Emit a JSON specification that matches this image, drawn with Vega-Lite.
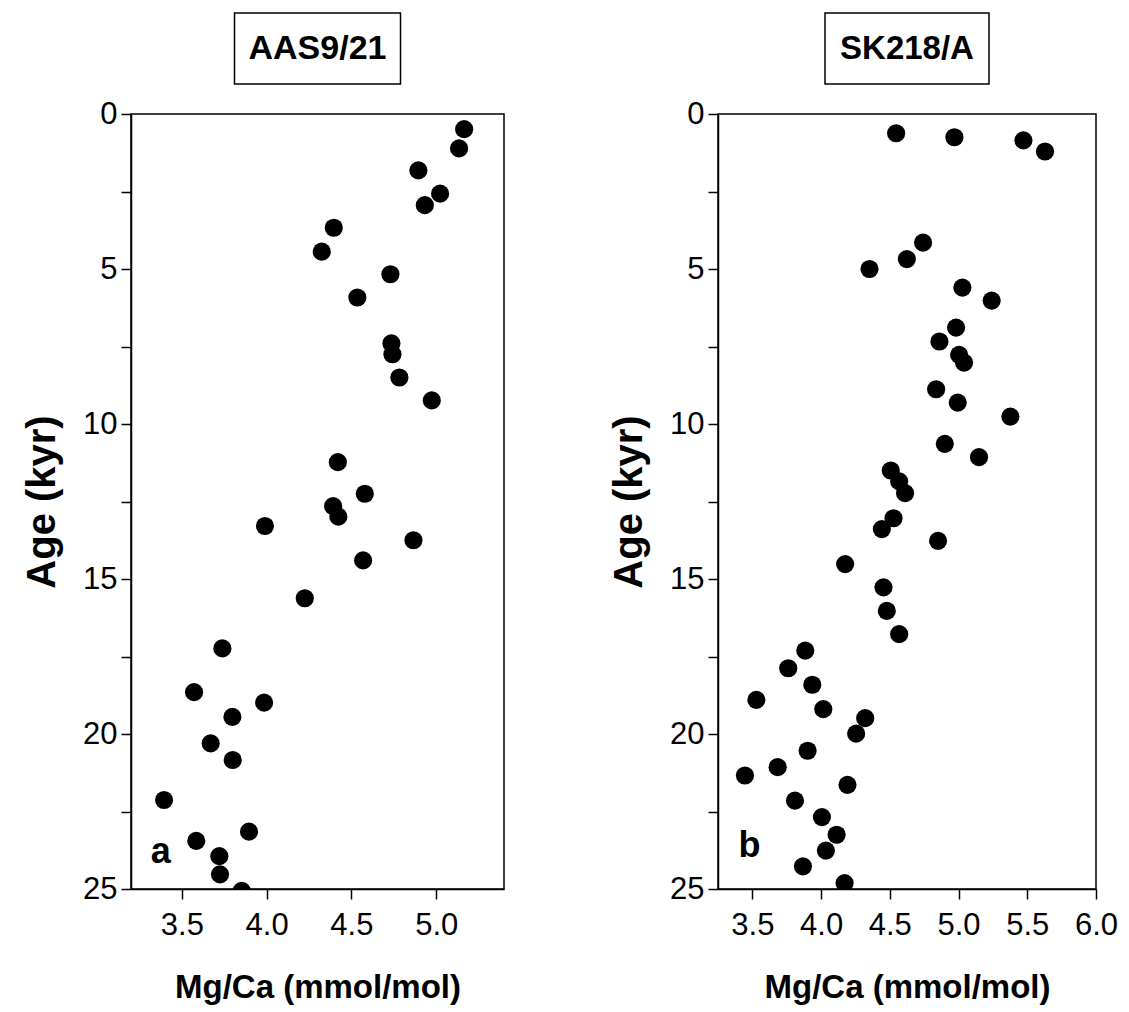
{
  "$schema": "https://vega.github.io/schema/vega-lite/v6.json",
  "padding": {"left": 21, "top": 12, "right": 5, "bottom": 2},
  "background": "white",
  "config": {
    "font": "Liberation Sans",
    "view": {"stroke": "black", "strokeWidth": 1.5},
    "axis": {
      "grid": false,
      "labelFont": "Liberation Sans",
      "labelFontSize": 31,
      "labelColor": "black",
      "labelFlush": false,
      "labelOverlap": false,
      "titleFont": "Liberation Sans",
      "titleFontWeight": "bold",
      "titleColor": "black",
      "tickColor": "black",
      "tickSize": 10,
      "tickWidth": 1.5,
      "domainColor": "black",
      "domainWidth": 1.5
    }
  },
  "datasets": {
    "aas": [
      {"mgca": 5.165, "age": 0.49}, {"mgca": 5.135, "age": 1.11}, {"mgca": 4.895, "age": 1.82},
      {"mgca": 5.023, "age": 2.57}, {"mgca": 4.933, "age": 2.94}, {"mgca": 4.396, "age": 3.67},
      {"mgca": 4.325, "age": 4.44}, {"mgca": 4.73, "age": 5.17}, {"mgca": 4.535, "age": 5.92},
      {"mgca": 4.736, "age": 7.4}, {"mgca": 4.742, "age": 7.75}, {"mgca": 4.783, "age": 8.5},
      {"mgca": 4.974, "age": 9.24}, {"mgca": 4.42, "age": 11.23}, {"mgca": 4.579, "age": 12.25},
      {"mgca": 4.392, "age": 12.65}, {"mgca": 4.423, "age": 12.99}, {"mgca": 3.99, "age": 13.29},
      {"mgca": 4.866, "age": 13.75}, {"mgca": 4.569, "age": 14.4}, {"mgca": 4.225, "age": 15.62},
      {"mgca": 3.739, "age": 17.24}, {"mgca": 3.572, "age": 18.65}, {"mgca": 3.985, "age": 18.99},
      {"mgca": 3.798, "age": 19.45}, {"mgca": 3.67, "age": 20.3}, {"mgca": 3.8, "age": 20.84},
      {"mgca": 3.395, "age": 22.13}, {"mgca": 3.896, "age": 23.15}, {"mgca": 3.585, "age": 23.45},
      {"mgca": 3.721, "age": 23.94}, {"mgca": 3.725, "age": 24.53}, {"mgca": 3.853, "age": 25.06}
    ],
    "sk": [
      {"mgca": 4.546, "age": 0.62}, {"mgca": 4.97, "age": 0.75}, {"mgca": 5.472, "age": 0.85},
      {"mgca": 5.629, "age": 1.21}, {"mgca": 4.742, "age": 4.15}, {"mgca": 4.624, "age": 4.68},
      {"mgca": 4.352, "age": 5.0}, {"mgca": 5.028, "age": 5.6}, {"mgca": 5.241, "age": 6.02},
      {"mgca": 4.982, "age": 6.89}, {"mgca": 4.861, "age": 7.34}, {"mgca": 5.004, "age": 7.77},
      {"mgca": 5.04, "age": 8.02}, {"mgca": 4.837, "age": 8.88}, {"mgca": 4.994, "age": 9.31},
      {"mgca": 5.377, "age": 9.76}, {"mgca": 4.9, "age": 10.64}, {"mgca": 5.149, "age": 11.07},
      {"mgca": 4.507, "age": 11.5}, {"mgca": 4.568, "age": 11.85}, {"mgca": 4.611, "age": 12.23},
      {"mgca": 4.527, "age": 13.04}, {"mgca": 4.442, "age": 13.39}, {"mgca": 4.851, "age": 13.77},
      {"mgca": 4.175, "age": 14.52}, {"mgca": 4.454, "age": 15.27}, {"mgca": 4.478, "age": 16.03},
      {"mgca": 4.568, "age": 16.78}, {"mgca": 3.885, "age": 17.31}, {"mgca": 3.761, "age": 17.88},
      {"mgca": 3.936, "age": 18.41}, {"mgca": 3.529, "age": 18.9}, {"mgca": 4.016, "age": 19.2},
      {"mgca": 4.321, "age": 19.49}, {"mgca": 4.255, "age": 19.99}, {"mgca": 3.902, "age": 20.54},
      {"mgca": 3.684, "age": 21.07}, {"mgca": 3.446, "age": 21.34}, {"mgca": 4.192, "age": 21.64},
      {"mgca": 3.81, "age": 22.15}, {"mgca": 4.006, "age": 22.68}, {"mgca": 4.113, "age": 23.25},
      {"mgca": 4.035, "age": 23.76}, {"mgca": 3.868, "age": 24.27}, {"mgca": 4.171, "age": 24.81}
    ]
  },
  "spacing": 103,
  "hconcat": [
    {
      "bounds": "flush",
      "center": true,
      "spacing": 30,
      "vconcat": [
        {
          "width": 166,
          "height": 71,
          "data": {"values": [{"label": "AAS9/21"}]},
          "layer": [
            {"mark": {"type": "rect", "fill": "white", "stroke": "black", "strokeWidth": 1.5}, "encoding": {}},
            {"mark": {"type": "text", "fontSize": 34, "fontWeight": "bold", "font": "Liberation Sans", "color": "black"},
             "encoding": {"text": {"field": "label", "type": "nominal"}}}
          ]
        },
        {
          "width": 373,
          "height": 775,
          "layer": [
            {
              "data": {"name": "aas"},
              "mark": {"type": "circle", "size": 330, "color": "black", "opacity": 1, "clip": true},
              "encoding": {
                "x": {"field": "mgca", "type": "quantitative",
                  "scale": {"domain": [3.2, 5.4], "nice": false, "zero": false},
                  "axis": {"values": [3.5, 4.0, 4.5, 5.0], "format": ".1f", "title": "Mg/Ca (mmol/mol)", "titleFontSize": 33, "labelPadding": 11, "titlePadding": 31}},
                "y": {"field": "age", "type": "quantitative",
                  "scale": {"domain": [0, 25], "reverse": true, "nice": false, "zero": false},
                  "axis": {"values": [0, 2.5, 5, 7.5, 10, 12.5, 15, 17.5, 20, 22.5, 25], "labelExpr": "datum.value % 5 == 0 ? format(datum.value, 'd') : ''", "title": "Age (kyr)", "titleFontSize": 40, "labelPadding": 4, "titlePadding": 20}}
              }
            },
            {
              "data": {"values": [{"mgca": 3.375, "age": 23.8, "t": "a"}]},
              "mark": {"type": "text", "fontSize": 36, "fontWeight": "bold", "font": "Liberation Sans", "color": "black"},
              "encoding": {
                "x": {"field": "mgca", "type": "quantitative"},
                "y": {"field": "age", "type": "quantitative"},
                "text": {"field": "t", "type": "nominal"}
              }
            }
          ]
        }
      ]
    },
    {
      "bounds": "flush",
      "center": true,
      "spacing": 30,
      "vconcat": [
        {
          "width": 164,
          "height": 71,
          "data": {"values": [{"label": "SK218/A"}]},
          "layer": [
            {"mark": {"type": "rect", "fill": "white", "stroke": "black", "strokeWidth": 1.5}, "encoding": {}},
            {"mark": {"type": "text", "fontSize": 33, "fontWeight": "bold", "font": "Liberation Sans", "color": "black"},
             "encoding": {"text": {"field": "label", "type": "nominal"}}}
          ]
        },
        {
          "width": 378,
          "height": 775,
          "layer": [
            {
              "data": {"name": "sk"},
              "mark": {"type": "circle", "size": 330, "color": "black", "opacity": 1, "clip": true},
              "encoding": {
                "x": {"field": "mgca", "type": "quantitative",
                  "scale": {"domain": [3.25, 6.0], "nice": false, "zero": false},
                  "axis": {"values": [3.5, 4.0, 4.5, 5.0, 5.5, 6.0], "format": ".1f", "title": "Mg/Ca (mmol/mol)", "titleFontSize": 33, "labelPadding": 11, "titlePadding": 31}},
                "y": {"field": "age", "type": "quantitative",
                  "scale": {"domain": [0, 25], "reverse": true, "nice": false, "zero": false},
                  "axis": {"values": [0, 2.5, 5, 7.5, 10, 12.5, 15, 17.5, 20, 22.5, 25], "labelExpr": "datum.value % 5 == 0 ? format(datum.value, 'd') : ''", "title": "Age (kyr)", "titleFontSize": 40, "labelPadding": 4, "titlePadding": 20}}
              }
            },
            {
              "data": {"values": [{"mgca": 3.48, "age": 23.6, "t": "b"}]},
              "mark": {"type": "text", "fontSize": 36, "fontWeight": "bold", "font": "Liberation Sans", "color": "black"},
              "encoding": {
                "x": {"field": "mgca", "type": "quantitative"},
                "y": {"field": "age", "type": "quantitative"},
                "text": {"field": "t", "type": "nominal"}
              }
            }
          ]
        }
      ]
    }
  ]
}
